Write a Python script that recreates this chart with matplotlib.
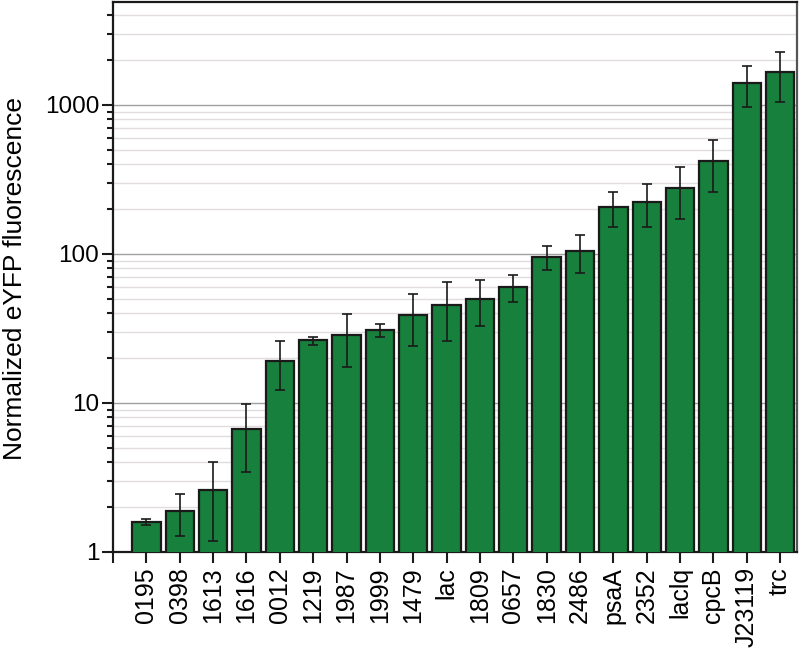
import matplotlib
matplotlib.use("Agg")
import matplotlib.pyplot as plt
import numpy as np
from matplotlib.ticker import LogLocator, NullFormatter, FixedLocator

categories = ["0195", "0398", "1613", "1616", "0012", "1219", "1987", "1999", "1479", "lac",
              "1809", "0657", "1830", "2486", "psaA", "2352", "laclq", "cpcB", "J23119", "trc"]
values = [1.58, 1.88, 2.62, 6.66, 19.1, 26.5, 28.5, 31.0, 39.0, 45.5,
          49.9, 60.1, 95.9, 104.7, 206, 222, 276, 421, 1399, 1665]
err_high = [1.66, 2.44, 4.04, 9.85, 26.2, 27.9, 39.6, 34.1, 53.9, 64.9,
            66.9, 72.3, 113.7, 134.8, 261, 295, 382, 580, 1819, 2279]
err_low = [1.51, 1.29, 1.19, 3.43, 12.3, 24.6, 17.3, 27.9, 24.1, 26.2,
           32.7, 47.4, 77.5, 74.2, 151, 151, 171, 262, 974, 1047]
y_ticks = [1, 10, 100, 1000]
y_ticklabels = ["1", "10", "100", "1000"]

plt.rcParams['font.family'] = ['Liberation Sans', 'DejaVu Sans']

fig = plt.figure(figsize=(8, 6.52), dpi=100)
ax = fig.add_axes([0.1413, 0.1534, 0.8547, 0.8435])

x = np.arange(len(categories))
vals = np.array(values)
yerr = np.vstack([vals - np.array(err_low), np.array(err_high) - vals])

ax.set_yscale('log')
ax.bar(x, vals, width=0.85, color='#17803c', edgecolor='#1a1a1a', linewidth=1.6, zorder=3)
ax.errorbar(x, vals, yerr=yerr, fmt='none', ecolor='#1a1a1a', elinewidth=1.2,
            capsize=3.8, capthick=1.2, zorder=4)

ax.set_xlim(-1, 19.5)
ax.set_ylim(1, 4900)

ax.yaxis.set_major_locator(FixedLocator(y_ticks))
ax.set_yticklabels(y_ticklabels)
ax.yaxis.set_minor_locator(LogLocator(base=10, subs=np.arange(2, 10)))
ax.yaxis.set_minor_formatter(NullFormatter())

ax.grid(True, which='major', axis='y', color='#a0a0a0', linewidth=1.0, zorder=0)
ax.grid(True, which='minor', axis='y', color='#e3dcdc', linewidth=1.0, zorder=0)
ax.set_axisbelow(True)

ax.set_xticks(x)
ax.set_xticklabels(categories, rotation=90, fontsize=18)
ax.set_xticks([-1], minor=True)
ax.tick_params(axis='x', which='both', direction='out', length=8, width=1.5, color='#1a1a1a', pad=3)
ax.tick_params(axis='y', which='major', direction='out', length=8, width=1.5, labelsize=17.5, color='#1a1a1a', pad=2)
ax.tick_params(axis='y', which='minor', direction='out', length=4, width=1.5, color='#1a1a1a')

for side in ['left', 'bottom', 'top']:
    ax.spines[side].set_linewidth(1.6)
    ax.spines[side].set_color('#1a1a1a')
ax.spines['right'].set_linewidth(1.6)
ax.spines['right'].set_color('#555555')

ax.set_ylabel("Normalized eYFP fluorescence", fontsize=19)
ax.yaxis.set_label_coords(-0.1263, 0.497)

fig.savefig("out.png", dpi=100)
